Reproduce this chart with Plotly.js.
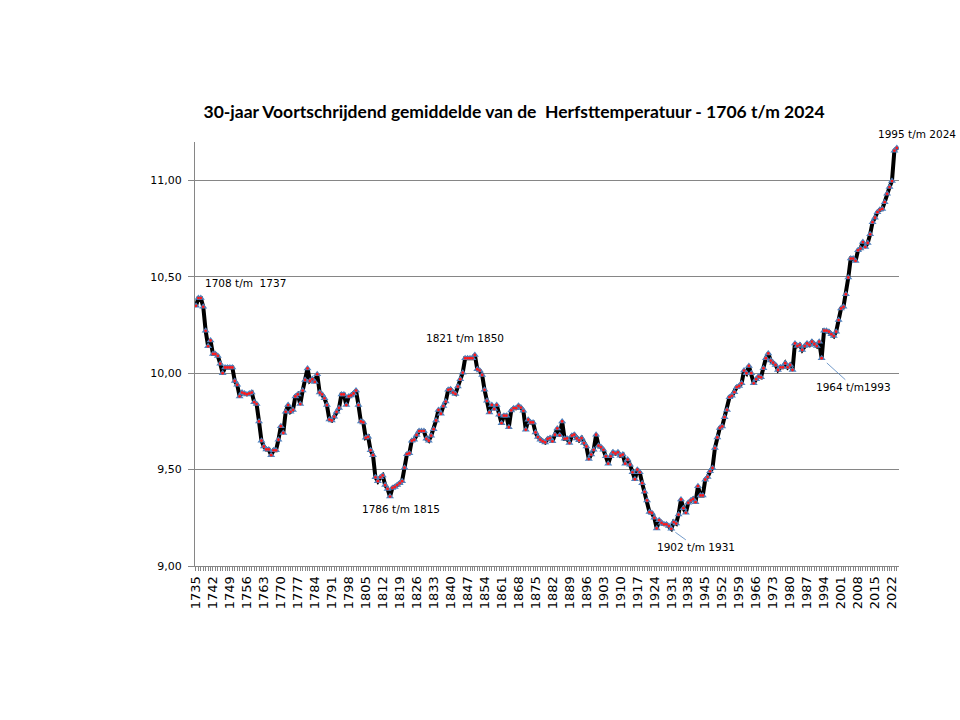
<!DOCTYPE html>
<html>
<head>
<meta charset="utf-8">
<script src="https://cdn.plot.ly/plotly-3.0.1.min.js"></script>
<style>
  html, body { margin: 0; padding: 0; background: #fff; }
  #chart { width: 960px; height: 720px; }
</style>
</head>
<body>
<div id="chart"></div>
<script>
// First year of the series (end year of each 30-year window)
var startYear = 1735;

// 30-year running mean of autumn temperature, 1735 ... 2024 (end year of window)
var values = [
  10.35, 10.39, 10.39, 10.345, 10.22, 10.14, 10.17, 10.10, 10.10, 10.09,
  10.05, 10.00, 10.03, 10.03, 10.03, 10.03, 9.96, 9.94, 9.88, 9.90,
  9.895, 9.89, 9.895, 9.90, 9.85, 9.84, 9.75, 9.65, 9.62, 9.605,
  9.605, 9.575, 9.60, 9.60, 9.655, 9.725, 9.69, 9.80, 9.835, 9.80,
  9.81, 9.88, 9.89, 9.84, 9.91, 9.965, 10.025, 9.96, 9.97, 9.955,
  9.995, 9.90, 9.89, 9.87, 9.835, 9.76, 9.755, 9.775, 9.80, 9.82,
  9.89, 9.89, 9.835, 9.88, 9.885, 9.895, 9.91, 9.835, 9.75, 9.745,
  9.665, 9.67, 9.60, 9.575, 9.46, 9.44, 9.46, 9.47, 9.42, 9.40,
  9.36, 9.405, 9.41, 9.42, 9.43, 9.44, 9.51, 9.58, 9.585, 9.65,
  9.655, 9.68, 9.70, 9.70, 9.70, 9.66, 9.65, 9.676, 9.71, 9.755,
  9.81, 9.79, 9.83, 9.853, 9.914, 9.917, 9.90, 9.893, 9.931, 9.969,
  10.003, 10.078, 10.078, 10.078, 10.078, 10.095, 10.021, 10.014, 9.991, 9.914,
  9.857, 9.797, 9.836, 9.814, 9.836, 9.785, 9.741, 9.78, 9.78, 9.72,
  9.807, 9.819, 9.819, 9.831, 9.822, 9.805, 9.707, 9.759, 9.745, 9.745,
  9.693, 9.669, 9.655, 9.647, 9.641, 9.659, 9.664, 9.647, 9.681, 9.714,
  9.678, 9.75, 9.66, 9.662, 9.638, 9.676, 9.681, 9.662, 9.652, 9.664,
  9.638, 9.62, 9.555, 9.578, 9.603, 9.681, 9.624, 9.617, 9.603, 9.569,
  9.531, 9.569, 9.59, 9.583, 9.59, 9.572, 9.578, 9.531, 9.552, 9.526,
  9.486, 9.45, 9.50, 9.486, 9.43, 9.385, 9.34, 9.28, 9.275, 9.25,
  9.195, 9.238, 9.224, 9.216, 9.216, 9.207, 9.193, 9.228, 9.22, 9.267,
  9.345, 9.30, 9.276, 9.328, 9.34, 9.348, 9.331, 9.414, 9.366, 9.366,
  9.448, 9.462, 9.491, 9.509, 9.612, 9.667, 9.716, 9.724, 9.772, 9.81,
  9.876, 9.883, 9.902, 9.928, 9.934, 9.948, 10.014, 10.00, 10.038, 10.00,
  9.948, 9.969, 9.983, 9.979, 10.026, 10.078, 10.103, 10.066, 10.055, 10.043,
  10.017, 10.031, 10.031, 10.052, 10.031, 10.043, 10.017, 10.155, 10.141, 10.147,
  10.121, 10.141, 10.155, 10.147, 10.164, 10.152, 10.141, 10.164, 10.078, 10.221,
  10.221, 10.216, 10.203, 10.193, 10.216, 10.276, 10.336, 10.345, 10.41, 10.497,
  10.595, 10.595, 10.583, 10.638, 10.647, 10.681, 10.655, 10.676, 10.721, 10.784,
  10.807, 10.836, 10.848, 10.853, 10.888, 10.931, 10.966, 10.997, 11.155, 11.169
];

var years = [];
for (var i = 0; i < values.length; i++) years.push(startYear + i);

// Texts
var titleText = "30-jaar Voortschrijdend gemiddelde van de  Herfsttemperatuur - 1706 t/m 2024";
var labelTexts = ["1708 t/m  1737", "1821 t/m 1850", "1786 t/m 1815", "1902 t/m 1931", "1964 t/m1993", "1995 t/m 2024"];

var lineTrace = {
  x: years, y: values, type: 'scatter', mode: 'lines',
  line: { color: '#000000', width: 4 },
  hoverinfo: 'skip', showlegend: false
};
var triTrace = {
  x: years, y: values, type: 'scatter', mode: 'markers',
  marker: { symbol: 'triangle-up', size: 7, color: '#4f81bd' },
  showlegend: false
};
var dotTrace = {
  x: years, y: values, type: 'scatter', mode: 'markers',
  marker: { symbol: 'circle', size: 2.8, color: '#ff1a1a' },
  showlegend: false
};

var annFont = { family: 'DejaVu Sans', size: 10.5, color: '#000000' };
var leaderColor = '#4f81bd';

var layout = {
  width: 960, height: 720,
  margin: { l: 195, r: 61, t: 142, b: 154, pad: 0 },
  paper_bgcolor: '#ffffff', plot_bgcolor: '#ffffff',
  separators: ',.',
  showlegend: false,
  title: {
    text: '<b>' + titleText + '</b>',
    font: { family: 'Lato', size: 17.5, color: '#000000' },
    xref: 'container', yref: 'container',
    x: 0.5355, xanchor: 'center', y: 1 - 112/720, yanchor: 'middle'
  },
  xaxis: {
    range: [1734.6, 2024.9],
    tick0: 1735, dtick: 7,
    ticks: 'outside', ticklen: 4, tickcolor: '#868686', tickwidth: 1,
    showline: true, linecolor: '#868686', linewidth: 1,
    showgrid: false, zeroline: false,
    tickangle: -90,
    tickfont: { family: 'DejaVu Sans', size: 13, color: '#000000' },
    minor: { dtick: 1, tick0: 1735, ticks: 'outside', ticklen: 4, tickcolor: '#868686', showgrid: false }
  },
  yaxis: {
    range: [9, 11.2],
    tick0: 9, dtick: 0.5, tickformat: '.2f',
    showgrid: true, gridcolor: '#868686', gridwidth: 1,
    showline: true, linecolor: '#868686', linewidth: 1,
    ticks: 'outside', ticklen: 6, tickcolor: '#868686',
    ticklabelstandoff: 4,
    zeroline: false,
    tickfont: { family: 'DejaVu Sans', size: 11, color: '#000000' }
  },
  annotations: [
    { x: 1737.9, y: 10.47, xref: 'x', yref: 'y', text: labelTexts[0], showarrow: false, xanchor: 'left', yanchor: 'middle', font: annFont },
    { x: 1846.1, y: 10.185, xref: 'x', yref: 'y', text: labelTexts[1], showarrow: false, xanchor: 'center', yanchor: 'middle', font: annFont },
    { x: 1819.6, y: 9.295, xref: 'x', yref: 'y', text: labelTexts[2], showarrow: false, xanchor: 'center', yanchor: 'middle', font: annFont },
    { x: 1931, y: 9.19, xref: 'x', yref: 'y', text: labelTexts[3], showarrow: true, arrowhead: 0, arrowwidth: 0.8, arrowcolor: leaderColor,
      ax: 25, ay: 18, standoff: 5, font: annFont },
    { x: 1993, y: 10.078, xref: 'x', yref: 'y', text: labelTexts[4], showarrow: true, arrowhead: 0, arrowwidth: 0.8, arrowcolor: leaderColor,
      ax: 32, ay: 29, standoff: 7, font: annFont },
    { x: 1.0, y: 1.019, xref: 'paper', yref: 'paper', text: labelTexts[5], showarrow: false, xanchor: 'right', xshift: 59, yanchor: 'middle', font: annFont }
  ]
};

Plotly.newPlot('chart', [lineTrace, triTrace, dotTrace], layout, { displayModeBar: false, staticPlot: true });
</script>
</body>
</html>
